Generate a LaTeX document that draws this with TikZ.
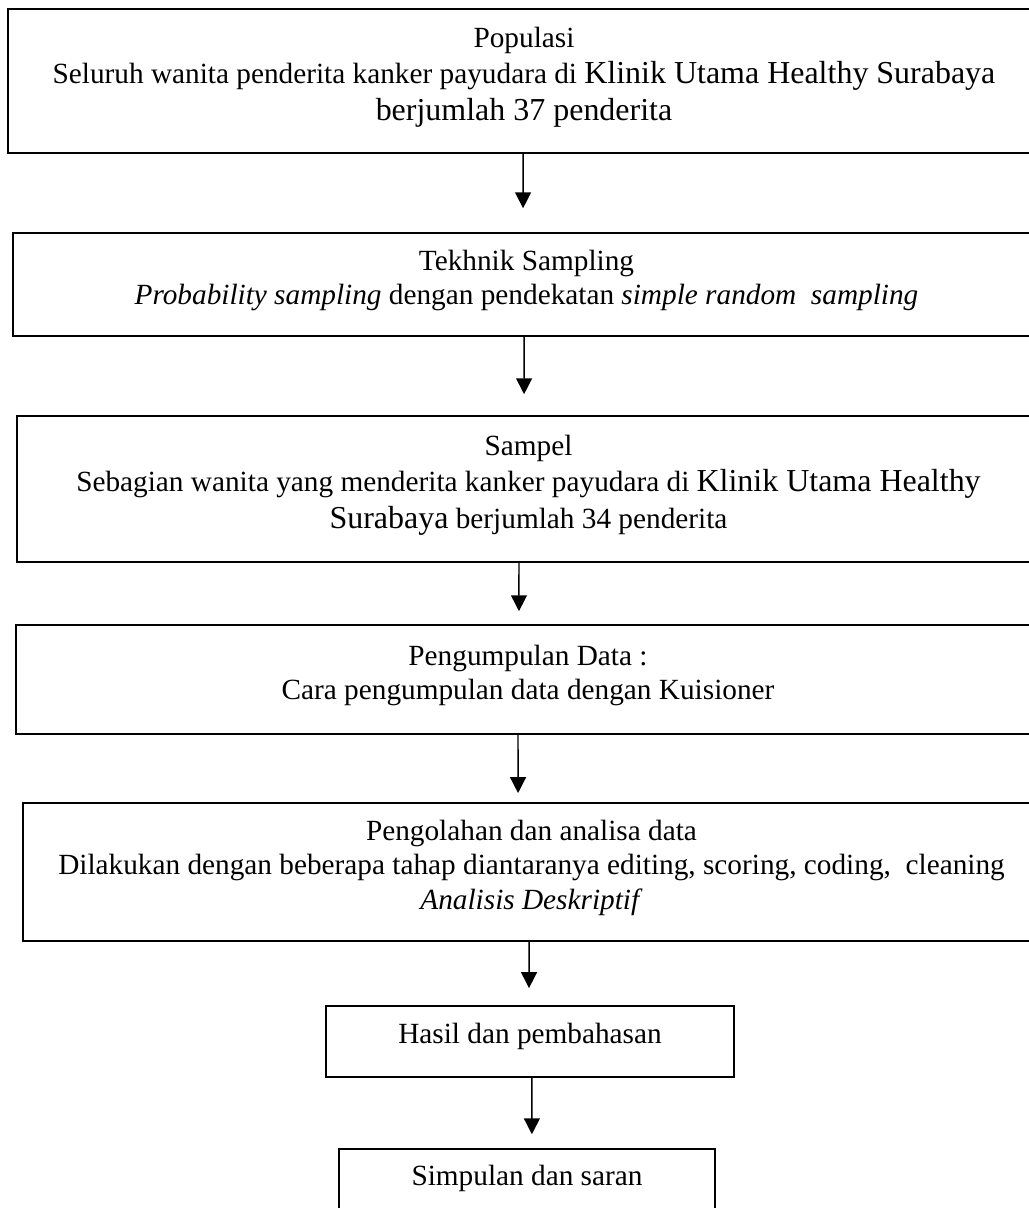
\documentclass[tikz,border=0pt]{standalone}
\usepackage{fontspec}
\setmainfont{Liberation Serif}
\usetikzlibrary{arrows.meta}
\newcommand{\besar}[1]{{\fontsize{13.1}{15}\selectfont #1}}
\newcommand{\bawah}{\rule[-6pt]{0pt}{0pt}}

\begin{document}
\begin{tikzpicture}[x=0.4098pt,y=-0.4098pt]
\tikzset{stage/.style={draw,line width=0.7pt,align=center,inner sep=0pt,font=\fontsize{12}{14}\selectfont}}
\tikzset{tall/.style={font=\fontsize{12}{15}\selectfont}}
\tikzset{flow/.style={line width=0.6pt,-{Triangle[width=6.5pt,length=6.5pt]}}}

\useasboundingbox (0,0) rectangle (1028,1208);

\node[stage,tall,minimum width=422.9pt,minimum height=59pt] (pop) at (524,81)
  {Populasi\\Seluruh wanita penderita kanker payudara di \besar{Klinik Utama Healthy Surabaya}\\\besar{berjumlah 37 penderita}\bawah};
\node[stage,minimum width=420.9pt,minimum height=42.2pt] (teknik) at (526.5,284.5)
  {Tekhnik Sampling\\\textit{Probability sampling} dengan pendekatan \textit{simple random\ \ sampling}\bawah};
\node[stage,tall,minimum width=419.2pt,minimum height=59.8pt] (sampel) at (528.5,489)
  {Sampel\\Sebagian wanita yang menderita kanker payudara di \besar{Klinik Utama Healthy}\\\besar{Surabaya} berjumlah 34 penderita\bawah};
\node[stage,minimum width=419.6pt,minimum height=44.7pt] (kumpul) at (528,679.5)
  {Pengumpulan Data :\\Cara pengumpulan data dengan Kuisioner\bawah};
\node[stage,minimum width=416.8pt,minimum height=56.6pt] (olah) at (531.5,872)
  {Pengolahan dan analisa data\\Dilakukan dengan beberapa tahap diantaranya editing, scoring, coding,\ \ cleaning\\\textit{Analisis Deskriptif}\bawah};
\node[stage,minimum width=167.2pt,text height=15.2pt,text depth=13.9pt] (hasil) at (530,1041.5)
  {Hasil dan pembahasan};
\node[stage,minimum width=154.1pt,text height=14.75pt,text depth=16.4pt] (simpul) at (527,1187)
  {Simpulan dan saran};

\draw[flow] ([xshift=-0.4pt]pop.south) -- ([xshift=-1.4pt,yshift=9.8pt]teknik.north);
\draw[flow] ([xshift=-1.0pt]teknik.south) -- ([xshift=-1.8pt,yshift=8.6pt]sampel.north);
\draw[flow] ([xshift=-3.9pt]sampel.south) -- ([xshift=-3.7pt,yshift=5.3pt]kumpul.north);
\draw[flow] ([xshift=-4.1pt]kumpul.south) -- ([xshift=-5.5pt,yshift=3.7pt]olah.north);
\draw[flow] ([xshift=-1.0pt]olah.south) -- ([xshift=-0.4pt,yshift=7.0pt]hasil.north);
\draw[flow] ([xshift=0.8pt]hasil.south) -- ([xshift=2.0pt,yshift=5.7pt]simpul.north);

\end{tikzpicture}
\end{document}
